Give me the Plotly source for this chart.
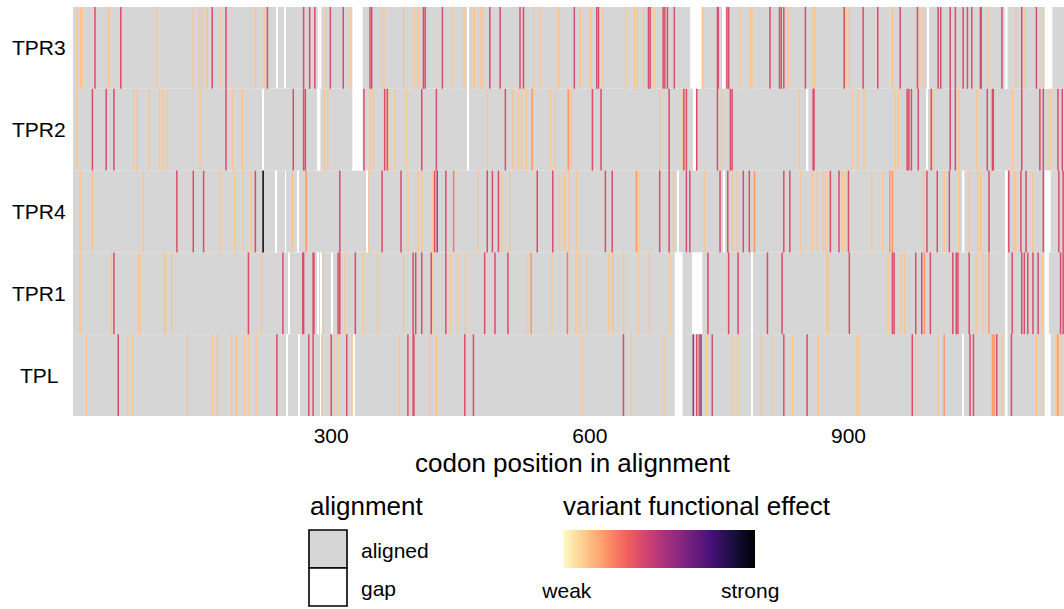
import plotly.graph_objects as go
from plotly.colors import sample_colorscale, sequential

# ---------------- data ----------------
rows = ["TPL", "TPR1", "TPR4", "TPR2", "TPR3"]          # bottom -> top
alignment_length = 1150
x_ticks = [300, 600, 900]
effect_labels = ["weak", "strong"]

# (codon position, functional effect 0=weak .. 1=strong)
TPR3_variants = [(5,.12),(9,.12),(11,.12),(26,.40),(42,.12),(56,.40),(98,.12),(140,.12),(147,.12),(150,.12),
    (156,.12),(162,.40),(171,.12),(178,.40),(212,.12),(222,.12),(226,.40),(268,.40),(275,.40),(281,.40),
    (293,.12),(299,.40),(314,.40),(322,.12),(345,.40),(347,.40),(358,.12),(361,.12),(384,.12),(396,.12),
    (401,.12),(407,.40),(409,.40),(429,.40),(440,.12),(454,.12),(463,.12),(466,.12),(474,.12),(476,.12),
    (484,.40),(496,.40),(519,.40),(523,.40),(535,.12),(542,.12),(564,.12),(582,.40),(589,.12),(601,.12),
    (608,.40),(610,.40),(615,.12),(642,.12),(652,.12),(655,.12),(662,.12),(668,.40),(670,.40),(675,.12),
    (685,.40),(687,.40),(690,.40),(698,.40),(731,.12),(748,.40),(749,.40),(759,.40),(761,.40),(774,.12),
    (786,.12),(788,.12),(809,.40),(820,.40),(822,.40),(825,.40),(830,.12),(850,.40),(859,.12),(861,.12),
    (895,.40),(897,.12),(901,.12),(917,.40),(934,.40),(951,.12),(960,.40),(980,.40),(983,.12),(987,.12),
    (1004,.40),(1007,.40),(1018,.40),(1024,.40),(1033,.40),(1038,.40),(1043,.40),(1053,.40),(1054,.40),
    (1062,.12),(1078,.40),(1094,.12),(1101,.40),(1105,.12),(1118,.40),(1126,.12)]

TPR2_variants = [(5,.12),(23,.40),(39,.40),(48,.40),(71,.12),(75,.12),(89,.12),(101,.12),(105,.12),(110,.12),
    (148,.12),(178,.40),(186,.12),(197,.12),(256,.40),(268,.40),(270,.40),(292,.12),(296,.12),(338,.40),
    (345,.12),(349,.12),(362,.40),(365,.40),(367,.12),(374,.12),(387,.12),(405,.40),(422,.40),(481,.12),
    (502,.40),(511,.12),(517,.12),(521,.12),(526,.12),(533,.22),(534,.12),(554,.12),(560,.12),(575,.22),
    (578,.12),(603,.40),(613,.40),(681,.12),(692,.40),(708,.12),(709,.40),(712,.40),(724,.40),(748,.40),
    (753,.12),(763,.40),(765,.40),(843,.12),(859,.40),(860,.40),(904,.12),(911,.12),(918,.12),(954,.12),
    (958,.12),(968,.40),(970,.40),(973,.40),(981,.40),(996,.40),(998,.12),(1018,.40),(1024,.40),(1028,.12),
    (1049,.12),(1061,.40),(1067,.40),(1068,.40),(1090,.12),(1101,.40),(1122,.40),(1126,.40),(1134,.12),
    (1143,.40),(1148,.40)]

TPR4_variants = [(9,.12),(23,.12),(82,.12),(121,.40),(140,.40),(152,.40),(171,.12),(188,.12),(198,.12),(207,.12),
    (212,.40),(221,.97),(255,.12),(271,.22),(310,.40),(344,.12),(359,.40),(381,.40),(389,.12),(401,.12),
    (405,.12),(418,.12),(420,.40),(423,.50),(433,.40),(442,.28),(470,.12),(481,.40),(487,.40),(494,.40),
    (498,.12),(507,.12),(539,.40),(557,.40),(565,.12),(571,.12),(576,.12),(585,.12),(618,.40),(626,.40),
    (654,.22),(657,.12),(681,.40),(692,.40),(697,.12),(712,.40),(716,.40),(733,.12),(751,.40),(760,.40),
    (765,.12),(771,.12),(778,.40),(785,.40),(791,.22),(825,.40),(832,.40),(845,.12),(858,.12),(864,.12),
    (871,.12),(874,.12),(879,.40),(889,.40),(893,.12),(896,.12),(900,.40),(927,.12),(940,.12),(948,.22),
    (951,.22),(987,.12),(991,.40),(1003,.40),(1011,.12),(1017,.40),(1028,.12),(1040,.12),(1050,.12),
    (1053,.12),(1063,.40),(1086,.40),(1092,.12),(1094,.12),(1100,.40),(1106,.40),(1114,.12),(1126,.40),
    (1144,.40),(1149,.40)]

TPR1_variants = [(9,.12),(45,.12),(48,.40),(76,.12),(78,.12),(106,.12),(108,.12),(115,.12),(204,.40),(219,.12),
    (244,.40),(267,.40),(268,.40),(279,.40),(280,.40),(291,.12),(308,.40),(310,.40),(316,.12),(328,.40),
    (337,.12),(354,.12),(384,.12),(395,.40),(398,.40),(405,.40),(416,.40),(417,.12),(433,.40),(438,.12),
    (447,.12),(456,.12),(478,.40),(490,.40),(505,.40),(528,.12),(532,.22),(556,.12),(574,.28),(584,.12),
    (588,.12),(597,.12),(622,.12),(627,.12),(639,.12),(656,.12),(669,.12),(693,.12),(737,.40),(761,.40),
    (772,.40),(806,.40),(823,.40),(875,.12),(876,.12),(901,.40),(946,.12),(951,.40),(953,.40),(961,.12),
    (965,.12),(978,.40),(985,.40),(988,.22),(995,.40),(1021,.40),(1025,.40),(1027,.40),(1040,.40),
    (1048,.12),(1056,.12),(1063,.22),(1090,.40),(1101,.40),(1104,.40),(1108,.40),(1114,.40),(1120,.40),
    (1125,.12),(1146,.40),(1149,.40)]

TPL_variants = [(16,.12),(53,.40),(64,.12),(70,.12),(133,.12),(162,.12),(168,.12),(184,.12),(190,.12),(199,.12),
    (204,.12),(213,.12),(237,.40),(274,.40),(279,.40),(289,.12),(300,.40),(303,.12),(308,.12),(318,.40),
    (324,.12),(379,.12),(389,.40),(395,.40),(396,.40),(414,.12),(422,.12),(455,.40),(465,.40),(591,.12),
    (639,.40),(648,.12),(686,.12),(720,.55),(724,.40),(727,.40),(729,.55),(735,.12),(742,.40),(765,.12),
    (772,.12),(799,.12),(811,.12),(825,.40),(835,.12),(852,.40),(865,.12),(910,.12),(912,.12),(974,.40),
    (978,.12),(1004,.12),(1011,.22),(1041,.40),(1045,.40),(1067,.22),(1069,.22),(1072,.40),(1078,.12),
    (1089,.40),(1118,.12),(1126,.12),(1141,.12),(1143,.22),(1147,.12)]

# alignment gaps: (first codon, last codon)
TPR3_gaps = [(237,237),(246,246),(285,288),(325,336),(459,459),(717,729),(754,757),(992,993),(1082,1084),(1128,1136)]
TPR2_gaps = [(221,221),(284,287),(325,336),(459,459),(720,723),(852,853),(991,991)]
TPR4_gaps = [(236,236),(247,247),(261,262),(341,342),(702,702),(755,756),(1033,1034),(1082,1084),(1128,1134)]
TPR1_gaps = [(251,251),(285,285),(288,288),(301,301),(699,707),(719,730),(788,788),(1083,1084),(1128,1132)]
TPL_gaps = [(249,249),(262,263),(288,288),(326,326),(699,707),(788,788),(1033,1033),(1083,1084),(1128,1134)]

variants = {"TPL": TPL_variants, "TPR1": TPR1_variants, "TPR4": TPR4_variants,
            "TPR2": TPR2_variants, "TPR3": TPR3_variants}
gaps = {"TPL": TPL_gaps, "TPR1": TPR1_gaps, "TPR4": TPR4_gaps,
        "TPR2": TPR2_gaps, "TPR3": TPR3_gaps}

# ---------------- figure ----------------
GREY = "#d6d6d6"
FONT = "Liberation Sans, Arial, Helvetica, sans-serif"
W, H = 1064, 609
ML, MR, MT, MB = 73, 0, 7, 193
PW, PH = W - ML - MR, H - MT - MB
NOLINE = dict(width=0, color="rgba(0,0,0,0)")
MAGMA_R = sequential.Magma[::-1]          # weak -> light, strong -> black


def px_x(px):
    return (px - ML) / PW


def px_y(py):
    return (MT + PH - py) / PH


fig = go.Figure()

# aligned background per row
fig.add_trace(go.Bar(
    x=[(alignment_length + 1) / 2] * len(rows), y=[1] * len(rows),
    base=[i - 0.5 for i in range(len(rows))], width=[alignment_length] * len(rows),
    marker=dict(color=GREY, line=NOLINE), hoverinfo="skip", showlegend=False))

# gaps
gx, gb, gw = [], [], []
for i, r in enumerate(rows):
    for s, e in gaps[r]:
        gx.append((s + e) / 2)
        gw.append(e - s + 1)
        gb.append(i - 0.5)
fig.add_trace(go.Bar(x=gx, y=[1] * len(gx), base=gb, width=gw,
                     marker=dict(color="white", line=NOLINE),
                     hoverinfo="skip", showlegend=False))

# variants: one vertical segment per variant, grouped by effect level
levels = {}
for i, r in enumerate(rows):
    for p, eff in variants[r]:
        xs, ys = levels.setdefault(eff, ([], []))
        xs += [p, p, None]
        ys += [i - 0.5, i + 0.5, None]
for eff in sorted(levels):
    xs, ys = levels[eff]
    col = sample_colorscale(MAGMA_R, [eff])[0]
    fig.add_trace(go.Scatter(x=xs, y=ys, mode="lines", line=dict(color=col, width=1.5),
                             hoverinfo="skip", showlegend=False, connectgaps=False))

# colour scale legend (carried by an invisible marker trace)
all_x = [p for r in rows for p, _ in variants[r]]
all_y = [i for i, r in enumerate(rows) for _ in variants[r]]
all_e = [e for r in rows for _, e in variants[r]]
fig.add_trace(go.Scatter(
    x=all_x, y=all_y, mode="markers", hoverinfo="skip", showlegend=False,
    marker=dict(size=1, opacity=0, color=all_e, colorscale=MAGMA_R, cmin=0, cmax=1,
                showscale=True,
                colorbar=dict(orientation="h", x=px_x(563), xanchor="left",
                              y=px_y(530), yanchor="top", len=192, lenmode="pixels",
                              thickness=38, thicknessmode="pixels", outlinewidth=0,
                              xpad=0, ypad=0, tickvals=[0.02, 0.975], ticktext=effect_labels,
                              ticks="outside", ticklen=5, tickcolor="rgba(0,0,0,0)",
                              tickfont=dict(size=21, family=FONT, color="black")))))

annotations = []
for i, r in enumerate(rows):
    annotations.append(dict(x=px_x(39), y=i, xref="paper", yref="y", text=r,
                            showarrow=False, xanchor="center", yanchor="middle",
                            font=dict(size=21)))
annotations += [
    dict(x=px_x(573), y=px_y(463), xref="paper", yref="paper", text="codon position in alignment",
         showarrow=False, xanchor="center", yanchor="middle", font=dict(size=26)),
    dict(x=px_x(308), y=px_y(506), xref="paper", yref="paper", text="alignment",
         showarrow=False, xanchor="left", yanchor="middle", font=dict(size=26)),
    dict(x=px_x(561), y=px_y(506), xref="paper", yref="paper", text="variant functional effect",
         showarrow=False, xanchor="left", yanchor="middle", font=dict(size=26)),
    dict(x=px_x(359), y=px_y(550), xref="paper", yref="paper", text="aligned",
         showarrow=False, xanchor="left", yanchor="middle", font=dict(size=21)),
    dict(x=px_x(359), y=px_y(588), xref="paper", yref="paper", text="gap",
         showarrow=False, xanchor="left", yanchor="middle", font=dict(size=21)),
]

shapes = [
    dict(type="rect", xref="paper", yref="paper", x0=px_x(309), x1=px_x(347),
         y0=px_y(568), y1=px_y(530), fillcolor=GREY, line=dict(color="black", width=1.6)),
    dict(type="rect", xref="paper", yref="paper", x0=px_x(309), x1=px_x(347),
         y0=px_y(606), y1=px_y(568), fillcolor="white", line=dict(color="black", width=1.6)),
]

fig.update_layout(
    width=W, height=H,
    margin=dict(l=ML, r=MR, t=MT, b=MB, autoexpand=False),
    plot_bgcolor="white", paper_bgcolor="white",
    barmode="overlay", bargap=0.2,
    font=dict(family=FONT, size=21, color="black"),
    xaxis=dict(range=[0.5, alignment_length], tickvals=x_ticks, ticks="",
               showgrid=False, zeroline=False, showline=False,
               tickfont=dict(size=21), ticklabelstandoff=5),
    yaxis=dict(range=[-0.5, len(rows) - 0.5], showticklabels=False,
               showgrid=False, zeroline=False, showline=False),
    annotations=annotations, shapes=shapes,
)

fig.write_html(
    "out.html",
    config={"displayModeBar": False},
    post_script="document.body.style.margin='0';document.body.style.overflow='hidden';",
)
